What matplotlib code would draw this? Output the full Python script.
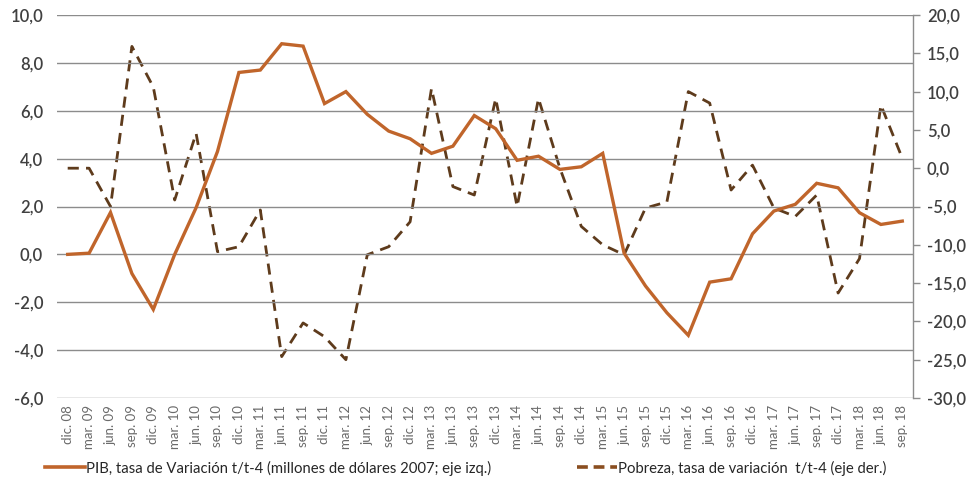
import matplotlib
matplotlib.use("Agg")
import matplotlib.pyplot as plt
from matplotlib.ticker import FixedLocator, FuncFormatter
from matplotlib.lines import Line2D

plt.rcParams['font.family'] = ['Lato', 'DejaVu Sans']

quarters = [
    "dic. 08", "mar. 09", "jun. 09", "sep. 09", "dic. 09",
    "mar. 10", "jun. 10", "sep. 10", "dic. 10",
    "mar. 11", "jun. 11", "sep. 11", "dic. 11",
    "mar. 12", "jun. 12", "sep. 12", "dic. 12",
    "mar. 13", "jun. 13", "sep. 13", "dic. 13",
    "mar. 14", "jun. 14", "sep. 14", "dic. 14",
    "mar. 15", "jun. 15", "sep. 15", "dic. 15",
    "mar. 16", "jun. 16", "sep. 16", "dic. 16",
    "mar. 17", "jun. 17", "sep. 17", "dic. 17",
    "mar. 18", "jun. 18", "sep. 18",
]

# PIB, tasa de variación t/t-4 (eje izquierdo)
pib = [
    0.0, 0.05, 1.75, -0.8, -2.3,
    0.0, 1.95, 4.3, 7.6,
    7.7, 8.8, 8.7, 6.3,
    6.8, 5.85, 5.15, 4.83,
    4.22, 4.52, 5.8, 5.25,
    3.93, 4.1, 3.55, 3.66,
    4.22, 0.05, -1.32, -2.44,
    -3.38, -1.16, -1.02, 0.86,
    1.81, 2.09, 2.97, 2.78,
    1.74, 1.25, 1.39,
]

# Pobreza, tasa de variación t/t-4 (eje derecho)
pobreza = [
    0.0, 0.0, -5.0, 15.9, 10.6,
    -4.15, 4.55, -10.9, -10.25,
    -5.45, -24.6, -20.2, -22.0,
    -25.0, -11.3, -10.25, -7.0,
    10.4, -2.4, -3.5, 9.1,
    -5.0, 9.1, 0.0, -7.6,
    -10.0, -11.3, -5.2, -4.4,
    10.0, 8.5, -2.85, 0.4,
    -5.2, -6.3, -3.5, -16.3,
    -11.8, 8.25, 1.3,
]

left_ticks = [-6, -4, -2, 0, 2, 4, 6, 8, 10]
right_ticks = [-30, -25, -20, -15, -10, -5, 0, 5, 10, 15, 20]

pib_color = "#C0652B"
pob_color = "#5E3B1C"
grid_color = "#8C8C8C"
text_color = "#404040"

fig = plt.figure(figsize=(9.7, 4.87), dpi=100)
ax = fig.add_axes([57 / 970, 1 - 398 / 487, (913 - 57) / 970, (398 - 15) / 487])
ax2 = ax.twinx()

x = list(range(len(quarters)))

ax.set_xlim(-0.5, len(quarters) - 0.5)
ax.set_ylim(-6, 10)
ax2.set_ylim(-30, 20)

comma = FuncFormatter(lambda v, p: f"{v:.1f}".replace(".", ","))

ax.yaxis.set_major_locator(FixedLocator(left_ticks))
ax.yaxis.set_major_formatter(comma)
ax2.yaxis.set_major_locator(FixedLocator(right_ticks))
ax2.yaxis.set_major_formatter(comma)

ax.grid(axis="y", color=grid_color, linewidth=1.0)
ax.set_axisbelow(True)

for a in (ax, ax2):
    for s in ("top", "left", "bottom", "right"):
        a.spines[s].set_visible(False)
ax2.spines["right"].set_visible(True)
ax2.spines["right"].set_color(grid_color)
ax2.spines["right"].set_linewidth(1.0)

ax.tick_params(axis="y", length=0, pad=10, labelsize=12, labelcolor=text_color)
ax2.tick_params(axis="y", length=5, width=1, color=grid_color, pad=5,
                labelsize=12, labelcolor=text_color)
for lbl in ax.get_yticklabels() + ax2.get_yticklabels():
    lbl.set_fontweight("semibold")

ax.set_xticks(x)
ax.set_xticklabels(quarters, rotation=90, fontsize=9.5, color="#6a6a6a")
ax.tick_params(axis="x", length=0, pad=5)

ax2.plot(x, pobreza, color=pob_color, linewidth=2.0, linestyle=(0, (4, 2.6)),
         label="Pobreza, tasa de variación  t/t-4 (eje der.)", zorder=3)
ax.plot(x, pib, color=pib_color, linewidth=2.4, solid_joinstyle="miter",
        label="PIB, tasa de Variación t/t-4 (millones de dólares 2007; eje izq.)", zorder=4)
ax.set_zorder(ax2.get_zorder() + 1)
ax.patch.set_visible(False)

handles = [
    Line2D([], [], color=pib_color, linewidth=2.6),
    Line2D([], [], color="#8A4E20", linewidth=2.6, linestyle=(0, (3, 1.6))),
]
labels = [
    "PIB, tasa de Variación t/t-4 (millones de dólares 2007; eje izq.)",
    "Pobreza, tasa de variación  t/t-4 (eje der.)",
]
fig.legend(handles, labels, loc="center left", bbox_to_anchor=(45 / 970, 1 - 468 / 487),
           ncol=2, frameon=False, fontsize=10.7, handlelength=2.7,
           handletextpad=0.05, columnspacing=5.8, labelcolor="#262626",
           borderpad=0, borderaxespad=0)

fig.savefig("out.png", dpi=100, facecolor="white")
